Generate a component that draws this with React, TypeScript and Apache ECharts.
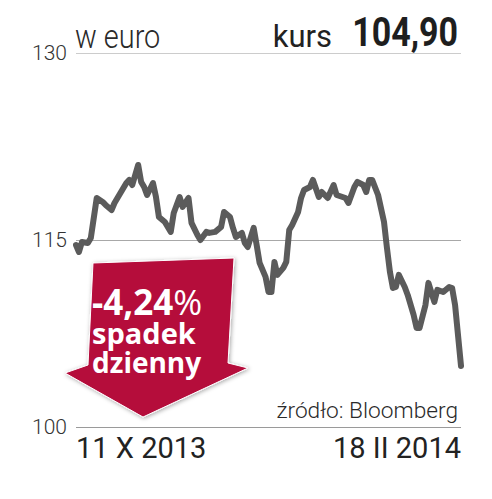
import React, { useEffect, useRef } from "react";
import * as echarts from "echarts";

// ---- data ----
const dates: string[] = [
  "2013-10-11", "2013-10-12", "2013-10-13", "2013-10-15", "2013-10-16", "2013-10-18", "2013-10-20", "2013-10-21",
  "2013-10-23", "2013-10-24", "2013-10-26", "2013-10-28", "2013-10-29", "2013-10-30", "2013-11-01", "2013-11-02",
  "2013-11-03", "2013-11-04", "2013-11-06", "2013-11-07", "2013-11-08", "2013-11-10", "2013-11-12", "2013-11-13",
  "2013-11-15", "2013-11-16", "2013-11-18", "2013-11-19", "2013-11-21", "2013-11-22", "2013-11-24", "2013-11-25",
  "2013-11-27", "2013-11-29", "2013-11-30", "2013-12-02", "2013-12-03", "2013-12-04", "2013-12-06", "2013-12-07",
  "2013-12-08", "2013-12-10", "2013-12-11", "2013-12-12", "2013-12-14", "2013-12-15", "2013-12-16", "2013-12-17",
  "2013-12-18", "2013-12-20", "2013-12-21", "2013-12-22", "2013-12-23", "2013-12-25", "2013-12-26", "2013-12-27",
  "2013-12-29", "2013-12-30", "2014-01-01", "2014-01-02", "2014-01-04", "2014-01-06", "2014-01-07", "2014-01-09",
  "2014-01-10", "2014-01-11", "2014-01-13", "2014-01-14", "2014-01-16", "2014-01-17", "2014-01-18", "2014-01-19",
  "2014-01-21", "2014-01-23", "2014-01-24", "2014-01-25", "2014-01-26", "2014-01-27", "2014-01-28", "2014-01-30",
  "2014-01-31", "2014-02-02", "2014-02-03", "2014-02-04", "2014-02-06", "2014-02-07", "2014-02-09", "2014-02-10",
  "2014-02-12", "2014-02-14", "2014-02-15", "2014-02-16", "2014-02-18",
];

const prices: number[] = [
  114.6, 114.04, 114.84, 114.76, 115.16, 118.37, 118.05, 117.81,
  117.41, 117.97, 118.77, 119.57, 119.82, 119.41, 121.02, 119.66,
  119.25, 118.61, 119.57, 118.45, 116.85, 116.45, 115.65, 117.17,
  118.45, 117.65, 118.37, 116.37, 115.4, 115.0, 115.65, 115.57,
  115.65, 116.05, 117.25, 116.85, 115.97, 115.24, 115.57, 114.76,
  114.44, 115.97, 114.6, 113.16, 112.04, 110.83, 110.83, 113.24,
  112.2, 112.76, 113.24, 115.8, 116.21, 117.25, 118.37, 119.01,
  119.25, 119.82, 118.45, 118.85, 118.37, 119.41, 118.61, 118.45,
  118.37, 117.97, 119.25, 119.66, 119.41, 118.85, 119.82, 119.82,
  118.61, 116.45, 114.36, 112.44, 111.15, 111.23, 112.2, 111.23,
  110.59, 108.99, 107.95, 107.95, 109.79, 111.56, 110.03, 111.0,
  110.83, 111.23, 111.15, 109.79, 104.9,
];

const yTicks: number[] = [100, 115, 130];
const xLabels: string[] = ["11 X 2013", "18 II 2014"];
const unitLabel = "w euro";
const priceLabel = "kurs";
const lastPrice = "104,90";
const changeLabel = "-4,24";
const changeLines: string[] = ["spadek", "dzienny"];
const sourceLabel = "źródło: Bloomberg";

const ts = (s: string) => {
  const [y, m, d] = s.split("-").map(Number);
  return Date.UTC(y, m - 1, d);
};

export default function App() {
  const ref = useRef<HTMLDivElement>(null);
  useEffect(() => {
    if (!ref.current) return;
    const chart = echarts.init(ref.current, undefined, { renderer: "svg" });
    const xMin = ts(dates[0]);
    const xMax = ts(dates[dates.length - 1]);
    const arrowFont = "'Open Sans', Roboto, sans-serif";
    chart.setOption({
      animation: false,
      backgroundColor: "#ffffff",
      grid: { left: 76, right: 31, top: 53, bottom: 72, containLabel: false },
      xAxis: {
        type: "value",
        min: xMin,
        max: xMax,
        axisLine: { show: false },
        axisTick: { show: false },
        splitLine: { show: false },
        axisLabel: {
          customValues: [xMin, xMax],
          alignMinLabel: "left",
          alignMaxLabel: "right",
          showMinLabel: true,
          showMaxLabel: true,
          hideOverlap: false,
          formatter: (v: number) => (v <= xMin + 1000 ? xLabels[0] : xLabels[1]),
          fontFamily: "Roboto, sans-serif",
          fontSize: 29,
          color: "#222222",
          margin: 6,
        },
      },
      yAxis: {
        type: "value",
        min: yTicks[0],
        max: yTicks[yTicks.length - 1],
        interval: yTicks[1] - yTicks[0],
        axisLine: { show: false },
        axisTick: { show: false },
        axisLabel: {
          fontFamily: "Roboto, sans-serif",
          fontWeight: 300,
          fontSize: 21,
          color: "#333333",
          margin: 9,
          padding: [3, 0, 0, 0],
        },
        splitLine: {
          show: true,
          lineStyle: { color: ["#9a9a9a", "#a8a8a8", "#cccccc"], width: 1 },
        },
      },
      series: [
        {
          type: "line",
          data: dates.map((d, i) => [ts(d), prices[i]]),
          showSymbol: false,
          symbol: "none",
          lineStyle: { color: "#5b5b5b", width: 6, join: "round", cap: "round" },
          z: 3,
        },
      ],
      graphic: [
        {
          type: "text",
          x: 75,
          y: 37,
          scaleX: 0.85,
          style: {
            text: unitLabel,
            font: "300 34px Roboto, sans-serif",
            fill: "#2a2a2a",
            align: "left",
            verticalAlign: "middle",
          },
        },
        {
          type: "text",
          x: 332,
          y: 36,
          style: {
            text: priceLabel,
            font: "400 31px Roboto, sans-serif",
            fill: "#222222",
            align: "right",
            verticalAlign: "middle",
          },
        },
        {
          type: "text",
          x: 458,
          y: 33,
          scaleX: 0.85,
          style: {
            text: lastPrice,
            font: "700 40px Roboto, sans-serif",
            fill: "#1e1e1e",
            align: "right",
            verticalAlign: "middle",
          },
        },
        {
          type: "polygon",
          shape: {
            points: [
              [93, 263],
              [234, 258],
              [228, 363],
              [248, 368],
              [143, 417],
              [65, 373],
              [88, 365],
            ],
          },
          style: {
            fill: "#b5073b",
            stroke: "#ffffff",
            lineWidth: 1,
            shadowBlur: 4,
            shadowColor: "rgba(0,0,0,0.35)",
            shadowOffsetX: 1,
            shadowOffsetY: 1,
          },
          z: 10,
        },
        {
          type: "text",
          x: 92,
          y: 285,
          z: 11,
          style: {
            text: `{a|${changeLabel}}{b|%}\n{c|${changeLines[0]}}\n{d|${changeLines[1]}}`,
            align: "left",
            verticalAlign: "top",
            rich: {
              a: { font: `700 35px ${arrowFont}`, fill: "#ffffff", lineHeight: 32 },
              b: { font: `400 35px ${arrowFont}`, fill: "#ffffff", lineHeight: 32 },
              c: { font: `700 29px ${arrowFont}`, fill: "#ffffff", lineHeight: 30 },
              d: { font: `700 28px ${arrowFont}`, fill: "#ffffff", lineHeight: 29 },
            },
          },
        },
        {
          type: "text",
          x: 458,
          y: 410,
          style: {
            text: sourceLabel,
            font: "300 22.7px Roboto, sans-serif",
            fill: "#2a2a2a",
            align: "right",
            verticalAlign: "middle",
          },
        },
      ],
    });
    return () => chart.dispose();
  }, []);
  return (
    <div
      ref={ref}
      style={{ position: "absolute", left: 0, top: 0, width: 492, height: 499 }}
    />
  );
}
